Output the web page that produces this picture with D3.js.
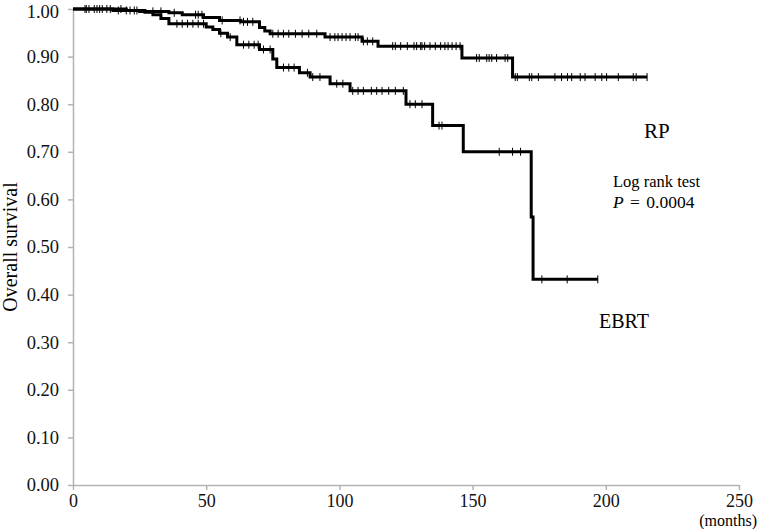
<!DOCTYPE html>
<html>
<head>
<meta charset="utf-8">
<script src="https://cdn.jsdelivr.net/npm/d3@7"></script>
<style>
	body { margin: 0; background: white; }
	text { font-family: "Liberation Serif", "Times New Roman", serif; }
</style>
</head>
<body>
<script>

//tick values for both axes
var month_ticks = [0, 50, 100, 150, 200, 250];
var survival_ticks = [0, 0.1, 0.2, 0.3, 0.4, 0.5, 0.6, 0.7, 0.8, 0.9, 1.0];

//RP group: step times (months) and survival after each step
var rp_times = [0, 15, 25, 36, 41, 49, 55, 63, 70, 72, 74, 94.6, 108.5, 114.5, 146, 165];
var rp_surv = [1.0, 0.997, 0.995, 0.992, 0.988, 0.982, 0.976, 0.973, 0.961, 0.954, 0.948, 0.941, 0.932, 0.922, 0.897, 0.857];
var rp_end = 215.5;
var rp_censor = [4.5, 6, 8, 10, 12.7, 17, 20, 21.4, 23, 30, 33, 38, 46, 47, 48.4, 56, 62.7, 64, 65.5, 67.5,
	75, 77, 79, 81, 83.5, 86, 88.5, 91.5, 96.5, 98.3, 99.5, 101, 102.5, 104, 106, 107, 109, 110.5, 112.5,
	120, 121, 123, 125.5, 128, 129, 130.5, 131, 132, 134, 136, 138, 139.6, 140.8, 142.3, 143.8, 145.3,
	151.5, 152.5, 155.3, 156.2, 157.2, 159, 162.2, 163.2, 166, 166.8, 171.3, 172.2, 174.7, 180.9, 183.4,
	185.6, 187.2, 190.4, 192.2, 196, 198.5, 200.3, 204.7, 210.3, 211.4, 215.5];

//EBRT group
var ebrt_times = [0, 20, 27, 30, 33, 36, 50, 52.5, 55, 58, 61.5, 70, 75, 76.5, 85, 89, 96.5, 104, 125, 135, 146.5, 172, 172.7];
var ebrt_surv = [1.0, 0.997, 0.993, 0.988, 0.98, 0.969, 0.962, 0.957, 0.949, 0.941, 0.925, 0.915, 0.895, 0.877, 0.866, 0.857, 0.843, 0.828, 0.8, 0.755, 0.7, 0.563, 0.432];
var ebrt_end = 197;
var ebrt_censor = [5, 9, 11, 14, 18, 24, 39, 41, 43, 45, 47, 49, 55.5, 59, 64, 66, 68, 69.5, 71.5, 74, 79, 81, 83,
	88, 90, 92.7, 99, 101.3, 105, 107, 109, 112, 114, 116, 118.5, 121, 124, 126.5, 128.5, 131, 137.4, 138.5,
	160, 165, 168, 176, 185.5, 197];

var w = 762,
	h = 529,
	margin = {top: 9, right: 23, bottom: 44, left: 73},
	plot_w = w - margin.left - margin.right,
	plot_h = h - margin.top - margin.bottom,
	axis_color = "#b3b3b3";

var svg = d3.select("body").append("svg")
	.attr("width", w)
	.attr("height", h);

svg.append("rect")
	.attr("width", w)
	.attr("height", h)
	.attr("fill", "white");

var g = svg.append("g")
	.attr("transform", "translate(" + margin.left + "," + margin.top + ")");

var x = d3.scaleLinear().domain([0, 250]).range([0, plot_w]);
var y = d3.scaleLinear().domain([0, 1]).range([plot_h, 0]);

//axes
var x_axis = g.append("g")
	.attr("transform", "translate(0," + plot_h + ")")
	.call(d3.axisBottom(x).tickValues(month_ticks).tickSize(5).tickSizeOuter(0).tickPadding(4));

var y_axis = g.append("g")
	.call(d3.axisLeft(y).tickValues(survival_ticks).tickFormat(d3.format(".2f")).tickSize(5).tickSizeOuter(0).tickPadding(9));

[x_axis, y_axis].forEach(function(a){
	a.select(".domain").attr("stroke", axis_color).attr("stroke-width", 1.5);
	a.selectAll(".tick line").attr("stroke", axis_color).attr("stroke-width", 1.5);
	a.selectAll(".tick text")
		.style("font-family", "'Liberation Serif', serif")
		.style("font-size", "18.5px")
		.attr("fill", "#111");
});
x_axis.selectAll(".tick text").style("font-size", "18px");

//keep the top label inside the picture
y_axis.selectAll(".tick text")
	.filter(function(d){ return d === 1; })
	.attr("dy", "0.45em");

//axis titles
svg.append("text")
	.attr("transform", "translate(17," + (margin.top + plot_h/2) + ") rotate(-90)")
	.attr("text-anchor", "middle")
	.style("font-size", "20px")
	.text("Overall survival");

svg.append("text")
	.attr("x", 757)
	.attr("y", 525.5)
	.attr("text-anchor", "end")
	.style("font-size", "16px")
	.text("(months)");

//survival curves
var step_line = d3.line()
	.x(function(d){ return x(d[0]); })
	.y(function(d){ return y(d[1]); })
	.curve(d3.curveStepAfter);

var surv_at = function(times, surv, t){
	var i = d3.bisectRight(times, t) - 1;
	return surv[Math.max(i, 0)];
};

var draw_group = function(times, surv, end, censor){
	var pts = times.map(function(t, i){ return [t, surv[i]]; });
	pts.push([end, surv[surv.length - 1]]);

	g.append("path")
		.attr("d", step_line(pts))
		.attr("fill", "none")
		.attr("stroke", "black")
		.attr("stroke-width", 3);

	g.selectAll(null)
		.data(censor)
		.enter().append("line")
		.attr("x1", function(d){ return x(d); })
		.attr("x2", function(d){ return x(d); })
		.attr("y1", function(d){ return y(surv_at(times, surv, d)) - 4; })
		.attr("y2", function(d){ return y(surv_at(times, surv, d)) + 4; })
		.attr("stroke", "black")
		.attr("stroke-width", 1);
};

draw_group(rp_times, rp_surv, rp_end, rp_censor);
draw_group(ebrt_times, ebrt_surv, ebrt_end, ebrt_censor);

//annotations
svg.append("text")
	.attr("x", 644)
	.attr("y", 138)
	.style("font-size", "21px")
	.text("RP");

svg.append("text")
	.attr("x", 613)
	.attr("y", 187)
	.style("font-size", "16.5px")
	.text("Log rank test");

var p_text = svg.append("text")
	.attr("x", 613)
	.attr("y", 208)
	.style("font-size", "17.5px")
	.style("word-spacing", "2px");
p_text.append("tspan").style("font-style", "italic").text("P");
p_text.append("tspan").text(" = 0.0004");

svg.append("text")
	.attr("x", 599)
	.attr("y", 328)
	.style("font-size", "20px")
	.text("EBRT");

</script>
</body>
</html>
